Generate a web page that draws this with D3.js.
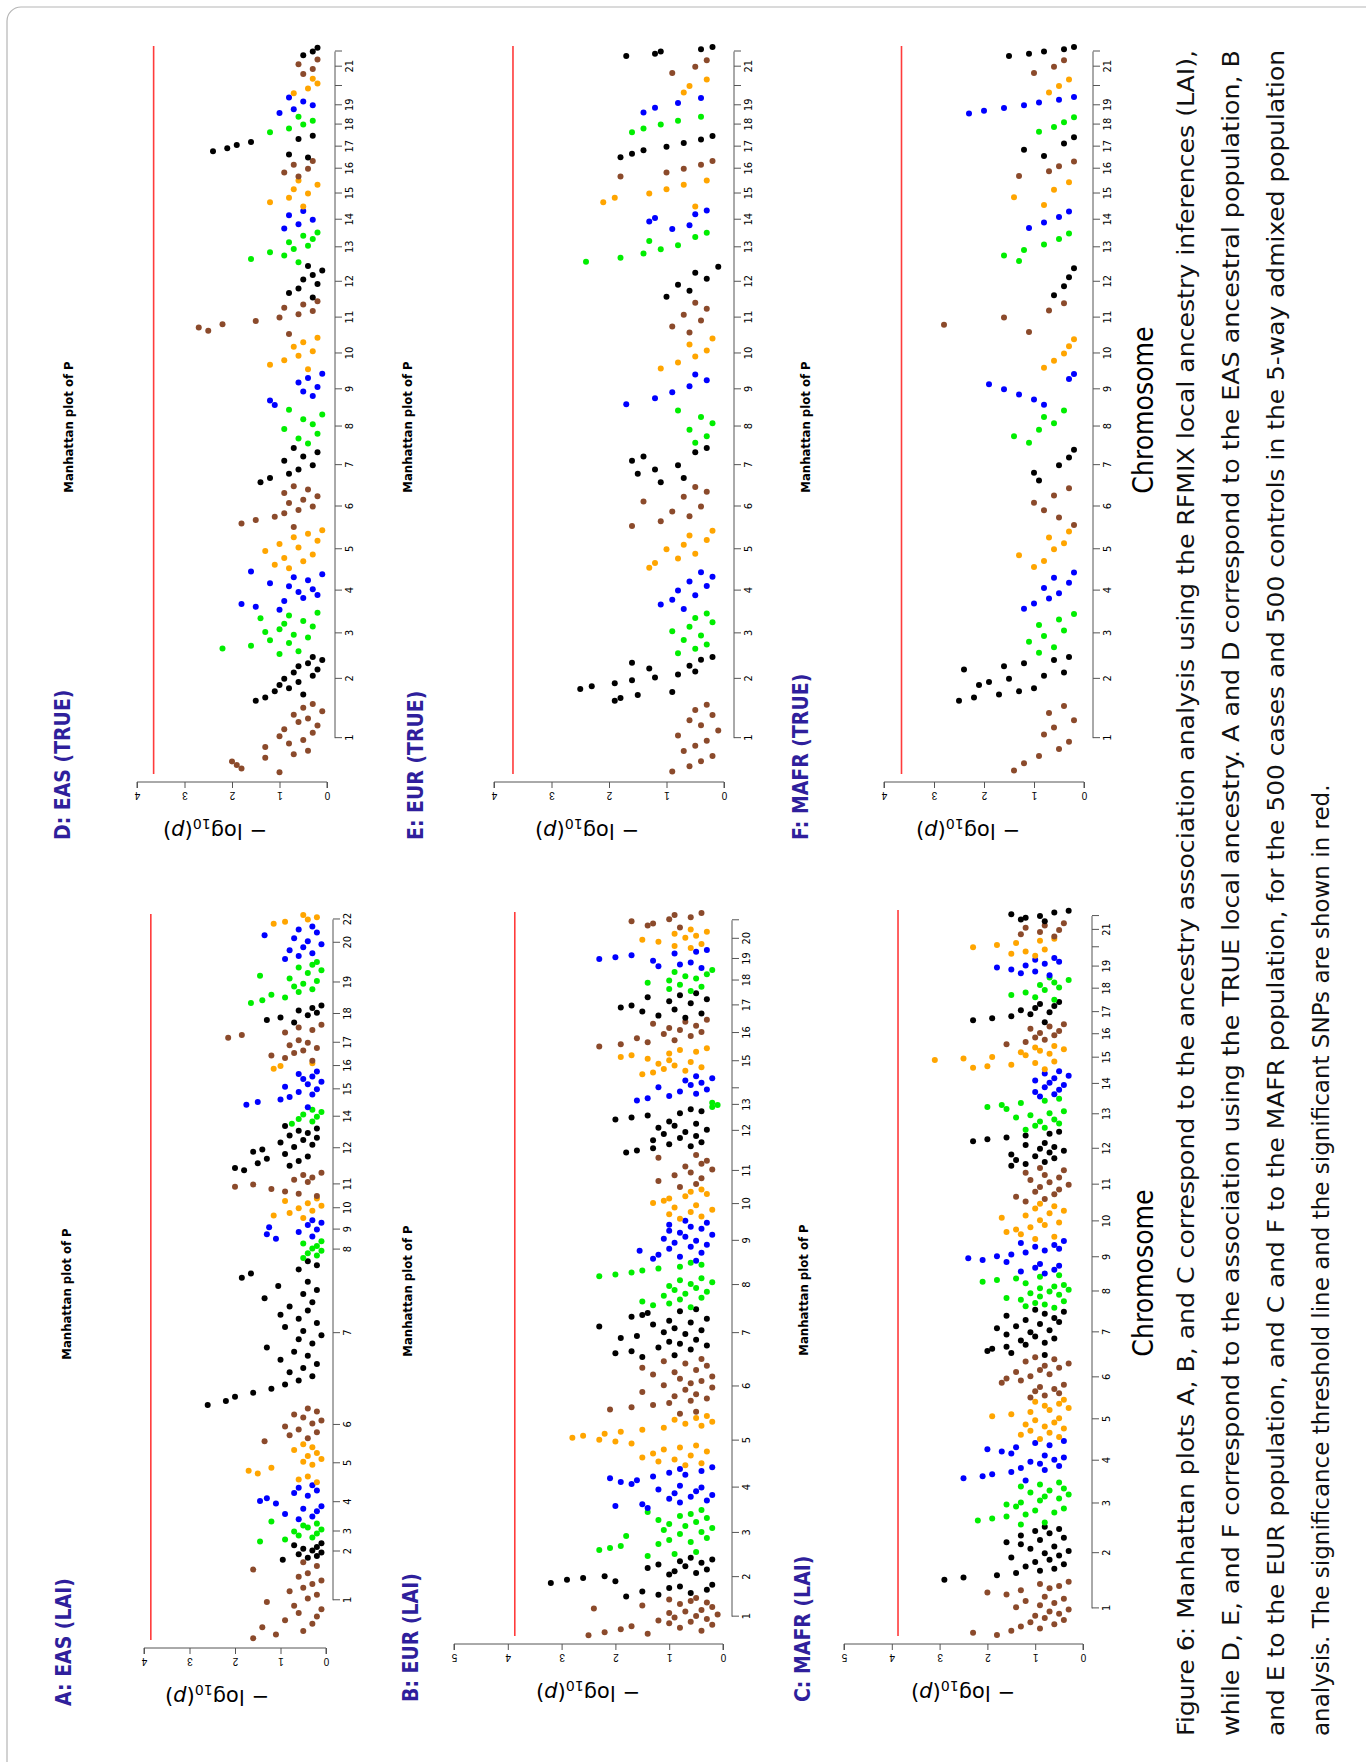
<!DOCTYPE html>
<html>
<head>
<meta charset="utf-8">
<script src="https://cdn.jsdelivr.net/npm/d3@7"></script>
<style>
  body { margin: 0; background: #fff; }
  svg { display: block; }
  .narrow { font-family: "Liberation Sans Narrow", "DejaVu Sans Condensed", "Liberation Sans", sans-serif; }
</style>
</head>
<body>
<svg id="fig" width="1366" height="1762"></svg>
<script>
// colours cycle per chromosome, as in the R plot
const chrColors = ["#8b4a2b", "#000000", "#00ee00", "#0000ff", "#ffa500"];

// relative chromosome widths on the x axis
const spansA = [145,33,40,67,75,65,270,35,38,40,47,85,30,70,15,70,35,80,65,20];
const labelsA = ["1","2","3","4","5","6","7","8","9","10","11","12","14","15","16","17","18","19","20","22"];
const spansB = [70,73,87,77,93,103,90,84,76,57,63,82,12,48,50,52,48,42,36,37,30];
const labelsB = ["1","2","3","4","5","6","7","8","9","10","11","12","13","","15","16","17","18","19","20",""];
const spansC = [100,100,80,75,75,77,86,62,62,68,65,65,60,50,45,40,40,45,35,35,28,22];
const labelsC = ["1","2","3","4","5","6","7","8","9","10","11","12","13","14","15","16","17","18","19","","21",""];
const spansDEF = [130,85,80,75,75,80,70,70,65,65,65,65,60,40,55,35,45,35,35,35,35,20];
const labelsDEF = ["1","2","3","4","5","6","7","8","9","10","11","12","13","14","15","16","17","18","19","","21",""];

// -log10(p) values per chromosome, in order along each chromosome
const valuesA = [
  [1.6,1.1,0.5,1.4,0.3,0.9,0.2,0.6,0.1,0.7,1.3,0.4,0.2,0.8,0.5,0.3,0.1,0.6,0.4,1.6,0.2,0.5],
  [0.95,0.4,0.2,0.6,0.1,0.3,0.5,0.2,0.7,0.1],
  [1.45,0.9,0.3,0.6,0.2,0.7,0.1,0.4,0.5,0.2,1.2],
  [0.6,0.3,0.9,0.2,0.5,0.1,1.1,1.45,1.3,0.4,0.7,0.2,0.6,0.3],
  [0.2,0.6,0.4,1.5,1.7,1.2,0.3,0.5,0.1,0.4,0.2,0.7,0.3,0.5],
  [1.35,0.4,0.8,0.2,0.6,0.9,0.3,0.1,0.5,0.7,0.2,0.4],
  [2.6,2.2,2.0,1.6,1.2,0.9,0.6,0.3,0.8,0.5,0.2,1.0,0.4,0.7,1.3,0.3,0.6,0.1,0.5,0.9,0.2,0.6,1.0,0.4,0.8,0.3,1.35,0.5,0.2,1.05,0.4,1.85,1.65,0.6,0.2,0.4],
  [0.5,0.2,0.4,0.1,0.3,0.2,0.5,0.1],
  [1.1,0.3,1.3,0.6,0.2,1.25,0.4,0.1,0.3],
  [0.5,1.15,0.8,0.3,0.6,0.1,0.4,0.9,0.2],
  [0.2,0.6,0.9,1.2,2.0,1.6,0.4,0.7,0.3,0.5,0.1],
  [1.8,2.0,0.8,1.5,0.6,1.3,0.4,0.9,1.6,1.4,0.7,0.3,1.0,0.5,0.2,0.8,0.4,0.6,0.2,0.9],
  [0.75,0.3,0.6,0.2,0.5,0.1,0.3],
  [0.4,1.75,1.5,1.0,0.8,0.3,0.6,0.2,0.9,0.4,0.1,0.5,0.3,0.6,0.2],
  [1.15,1.0,0.3],
  [0.3,0.9,1.2,0.7,0.5,0.2,0.8,0.4,0.6,2.15,1.85,0.9,0.3,0.6,0.1],
  [0.7,1.3,1.0,0.4,0.2,0.6,0.3,0.1],
  [1.65,1.4,0.9,1.2,0.6,0.3,0.7,0.5,0.2,0.8,1.45,0.4,0.1,0.6,0.3,0.2],
  [0.9,0.6,0.3,0.8,0.5,0.1,0.4,0.7,1.35,0.2,0.6,0.3],
  [1.15,0.9,0.4,0.2,0.5]
];
const valuesB = [
  [2.5,1.4,2.2,0.4,1.9,0.8,1.7,0.2,1.0,0.6,1.2,0.3,0.9,0.5,0.1,1.0,0.7,0.4,2.4,0.2,1.5,0.8,0.3,0.6,1.0,0.5],
  [1.8,1.2,0.6,1.5,0.3,1.0,0.8,0.2,3.2,2.0,2.9,2.6,2.2,1.0,0.5,0.9,0.3,1.4,0.7,1.2,0.4,0.8,0.2,0.6],
  [1.4,0.9,0.5,2.3,2.1,1.9,1.2,0.6,1.0,0.3,1.8,0.8,0.4,1.1,0.2,0.7,1.0,0.5,1.2,0.3,0.8,0.6,1.4,0.4],
  [1.4,2.0,1.5,0.8,0.3,1.0,0.6,0.2,0.9,0.5,1.2,0.4,0.8,1.7,1.9,1.6,2.1,1.3,0.7,1.0,0.4,0.8,0.2],
  [0.7,0.4,1.2,0.9,1.5,0.6,1.3,0.3,1.1,0.8,0.5,1.7,2.0,2.3,2.8,2.6,2.2,1.9,1.5,1.1,0.4,0.7,0.2,0.9,0.5,0.3],
  [0.8,0.5,2.1,1.7,1.3,1.0,0.6,0.3,0.9,0.5,1.5,0.7,0.2,1.1,0.6,0.4,0.8,0.2,1.3,0.9,0.5,1.5,0.3,0.7,1.1,0.4],
  [1.5,0.9,2.0,1.7,0.6,1.2,0.3,0.8,1.0,0.5,1.9,1.6,0.7,1.1,0.4,0.9,2.3,1.3,0.6,1.0,0.3,1.7,1.5,1.4,0.8,0.5],
  [0.6,1.3,1.0,1.5,0.8,0.4,1.1,0.7,0.3,0.9,0.5,1.0,0.6,0.2,0.8,0.4,2.3,2.0,1.7,1.5,1.2,0.8,0.4,0.6],
  [0.5,1.3,0.8,1.2,0.4,1.55,1.0,0.6,0.3,0.9,0.5,1.1,0.7,0.2,0.8,1.0,0.4,0.6,1.0,0.3,0.7],
  [0.8,0.4,1.0,0.6,0.2,0.9,0.5,1.3,1.1,1.0,0.7,0.3,0.6,0.4],
  [0.8,0.5,1.2,0.4,0.9,0.6,0.2,0.7,0.4,0.3,1.2,0.5],
  [1.8,1.6,1.3,0.6,1.0,0.4,1.3,0.8,0.5,1.1,0.7,0.3,1.2,0.9,0.5,1.0,2.0,1.7,1.4,0.8,0.4,0.6],
  [0.2,0.1,0.2],
  [1.6,1.4,1.0,0.5,0.8,0.3,1.2,0.6,0.4,0.7,0.2,0.5],
  [1.5,1.3,0.7,1.1,0.4,0.9,1.2,0.6,1.0,1.4,1.9,1.7,1.0,0.5,0.8,0.3],
  [2.3,1.9,1.4,0.9,1.6,0.6,1.1,0.4,0.8,1.0,0.5,1.3,0.7,0.3],
  [0.7,1.2,0.4,1.5,0.9,1.9,1.7,0.6,1.0,0.3,1.4,0.8,0.5],
  [0.6,1.0,0.4,0.8,1.4,1.0,0.5,0.7,0.3,0.9,0.2],
  [0.4,1.2,0.8,0.6,1.3,2.3,2.0,1.7,0.9,0.5,0.3],
  [0.6,0.9,0.4,1.2,1.5,0.7,0.5,0.9,0.3,0.6],
  [0.8,1.4,1.3,1.7,1.0,0.6,0.9,0.4]
];
const valuesC = [
  [1.8,2.3,1.5,0.9,1.3,0.6,1.1,0.4,0.8,1.0,0.5,0.7,0.3,1.4,0.9,0.6,1.2,0.4,0.8,1.6,2.0,1.3,0.7,0.5,0.9,0.3],
  [2.9,2.5,1.8,1.4,0.9,0.6,1.2,0.4,1.0,0.7,1.5,0.5,0.8,0.3,1.1,0.6,1.3,1.6,0.9,0.4,1.3,0.7,1.0,0.5,0.8],
  [1.3,0.8,2.2,1.9,1.6,1.2,0.6,1.0,0.4,1.4,1.6,1.3,0.9,0.5,0.8,0.3,1.1,0.7,0.4,1.3,0.9,0.5],
  [1.2,2.5,2.1,1.9,1.5,0.8,1.3,0.5,0.9,1.1,0.6,0.4,0.8,1.5,1.7,2.0,1.4,0.7,1.0,0.4],
  [0.9,0.5,1.3,0.7,1.1,0.4,0.8,1.2,0.6,1.0,0.5,1.9,1.5,1.1,0.7,0.3,0.8,0.5,1.0,0.4],
  [1.1,0.8,0.5,1.0,0.6,0.9,0.4,1.7,1.3,1.6,1.1,0.7,1.4,0.9,0.5,0.8,0.3,1.2,0.6,1.0],
  [0.8,1.5,2.0,1.9,1.6,1.2,0.8,1.3,0.6,1.0,1.6,1.1,0.7,1.8,1.4,0.9,0.5,1.2,0.6,1.6,0.8,0.4,1.0],
  [0.6,1.2,0.8,1.0,0.4,1.3,1.6,0.9,0.5,1.1,0.7,0.3,0.9,0.6,0.4,1.2,2.1,1.8,1.4,0.9,0.5],
  [0.8,1.3,0.6,1.0,0.5,0.9,1.6,2.1,2.4,1.8,1.5,1.2,0.8,0.5,1.0,0.6,1.3,0.4],
  [1.0,0.6,1.3,1.6,1.4,1.1,0.8,0.5,0.9,1.7,1.2,0.7,0.4,1.0,0.6,0.9],
  [1.2,0.8,1.4,0.6,1.0,0.5,0.9,0.3,0.7,1.1,0.5,0.8,1.2,0.4,0.9],
  [1.5,1.2,0.8,1.4,0.6,1.0,1.5,0.7,0.4,0.9,0.6,1.2,0.8,2.3,2.0,1.6,1.2,0.7,0.5],
  [1.2,0.8,1.0,0.5,0.9,0.6,1.4,1.1,0.7,0.4,1.6,2.0,1.7,1.3,0.8,0.5],
  [0.9,0.6,1.0,0.5,0.8,0.4,0.7,1.0,0.6,0.3,0.8,0.5],
  [0.8,2.3,2.0,1.5,1.0,0.6,3.1,2.5,1.9,1.2,0.7,1.3,0.9,0.4,1.0,0.6],
  [1.6,1.2,0.8,1.0,0.6,0.9,0.5,1.1,0.7,0.4],
  [0.8,2.3,1.9,1.5,1.1,0.7,1.3,1.0,0.6,0.9,0.5],
  [0.6,1.0,1.5,1.2,0.8,0.5,0.9,0.6,0.3,0.7],
  [0.7,1.3,1.0,1.5,1.8,1.2,0.8,0.5,1.0,0.6],
  [1.0,1.5,1.2,0.8,2.3,1.8,1.4,0.9,0.6],
  [0.6,1.3,0.9,0.5,1.2,0.8,0.4],
  [0.8,1.3,1.2,0.9,1.5,0.6,0.3]
];
const valuesD = [
  [1.0,1.8,1.9,2.0,1.3,0.7,0.4,1.3,0.8,0.5,1.0,0.3,0.9,0.2,0.6,0.4,0.7,0.1,0.5,0.3],
  [1.5,1.3,0.5,1.1,0.8,1.0,0.6,0.9,0.3,0.7,0.2,0.6,0.4,0.1,0.3],
  [1.0,0.6,2.2,1.6,0.8,1.2,0.4,0.7,1.3,1.0,0.3,0.9,0.5,1.4,0.8,0.2],
  [1.0,1.5,1.8,0.9,0.5,0.2,0.6,0.3,0.8,1.2,0.4,0.7,0.1,1.6],
  [0.8,1.1,0.5,0.9,0.3,1.3,0.6,1.0,0.2,0.7,0.4,0.1],
  [0.7,1.8,1.5,1.1,0.9,0.6,0.3,0.8,0.5,0.2,0.9,0.4,0.7],
  [1.4,1.2,0.8,0.6,0.3,0.9,0.5,0.2,0.7],
  [0.4,0.6,0.2,0.9,0.3,0.5,0.1,0.8],
  [1.1,1.2,0.3,0.5,0.2,0.6,0.4,0.1],
  [0.4,1.2,0.9,0.6,0.3,0.7,0.5,0.2],
  [0.8,2.5,2.7,2.2,1.5,1.0,0.6,0.3,0.9,0.5,0.2],
  [0.3,0.8,0.6,0.2,0.5,0.3,0.1,0.4],
  [0.6,1.6,0.9,1.2,0.7,0.4,0.8,0.3,0.5,0.2],
  [0.9,0.6,0.3,0.8,0.5],
  [0.5,1.2,0.8,0.4,0.7,0.2,0.6],
  [0.6,0.9,0.4,0.7,0.3],
  [0.4,0.8,2.4,2.1,1.9,1.6,0.6,0.3],
  [1.2,0.8,0.5,0.3,0.6],
  [1.0,0.7,0.3,0.5,0.8],
  [0.7,0.4,0.2,0.3],
  [0.5,0.3,0.6,0.2],
  [0.5,0.3,0.2]
];
const valuesE = [
  [0.9,0.6,0.4,0.2,0.7,0.5,0.3,0.8,0.1,0.4,0.6,0.2,0.5,0.3],
  [1.9,1.8,1.5,0.9,2.5,2.3,1.9,1.6,1.2,0.8,0.5,1.3,0.6,1.6,0.4,0.2],
  [0.8,0.5,0.3,0.7,0.4,0.9,0.6,0.2,0.5,0.3],
  [0.7,1.1,0.9,0.5,0.8,0.3,0.6,0.2,0.4],
  [1.3,1.2,0.8,0.5,1.0,0.7,0.3,0.6,0.2],
  [1.6,1.1,0.6,0.9,0.4,1.4,0.7,0.3,0.5],
  [1.1,0.7,1.5,1.2,0.8,1.6,1.4,0.5,0.3],
  [0.5,0.3,0.6,0.2,0.4,0.8],
  [1.7,1.2,0.9,0.6,0.3,0.5],
  [1.1,0.8,0.5,0.3,0.6,0.2],
  [0.6,0.9,0.4,0.7,0.3,0.5],
  [1.0,0.6,0.8,0.3,0.5,0.1],
  [2.4,1.8,1.4,1.1,0.8,1.3,0.5,0.3],
  [0.9,0.6,1.3,1.2,0.5,0.3],
  [0.5,2.1,1.9,1.3,1.0,0.7,0.3],
  [1.8,1.0,0.7,0.4,0.2],
  [1.8,1.6,1.4,1.0,0.7,0.4,0.2],
  [1.6,1.4,1.1,0.8,0.4],
  [1.4,1.2,0.8,0.4],
  [0.7,0.6,0.3],
  [0.9,0.5,0.3],
  [1.7,1.2,1.1,0.4,0.2]
];
const valuesF = [
  [1.4,1.2,0.9,0.5,0.3,0.8,0.6,0.2,0.7,0.4],
  [2.5,2.2,1.7,1.3,1.0,2.1,1.9,1.5,0.8,0.4,2.4,1.6,1.2,0.6,0.3],
  [0.9,0.6,1.1,0.8,0.4,0.9,0.5,0.2],
  [1.2,1.0,0.7,0.5,0.8,0.3,0.6,0.2],
  [1.0,0.8,1.3,0.6,0.4,0.7,0.3],
  [0.2,0.5,0.8,1.0,0.6,0.3],
  [0.9,1.0,0.5,0.3,0.2],
  [1.1,1.4,0.9,0.6,0.8,0.4],
  [0.8,1.0,1.3,1.6,1.9,0.3,0.2],
  [0.8,0.6,0.4,0.3,0.2],
  [1.1,2.8,1.6,0.7,0.4],
  [0.6,0.4,0.3,0.2],
  [1.3,1.6,1.2,0.8,0.5,0.3],
  [1.1,0.8,0.5,0.3],
  [0.8,1.4,0.6,0.3],
  [1.3,0.7,0.5,0.2],
  [0.8,1.2,0.4,0.2],
  [0.9,0.6,0.4,0.2],
  [2.3,2.0,1.6,1.2,0.9,0.5,0.2],
  [0.7,0.5,0.3],
  [1.0,0.6,0.4],
  [1.5,1.1,0.8,0.4,0.2]
];

const titles = ["A: EAS (LAI)", "B: EUR (LAI)", "C: MAFR (LAI)", "D: EAS (TRUE)", "E: EUR (TRUE)", "F: MAFR (TRUE)"];
const thresholds = [3.85, 3.87, 3.87, 3.65, 3.67, 3.65];
const yMax = [4, 5, 5, 4, 4, 4];

const caption = [
  "Figure 6: Manhattan plots A, B, and C correspond to the ancestry association analysis using the RFMIX local ancestry inferences (LAI),",
  "while D, E, and F correspond to the association using the TRUE local ancestry. A and D correspond to the EAS ancestral population, B",
  "and E to the EUR population, and C and F to the MAFR population, for the 500 cases and 500 controls in the 5-way admixed population",
  "analysis.  The significance threshold line and the significant SNPs are shown in red."
];

// layout in the landscape frame (the page is rotated)
const W = 1762;
const panels = [
  {spans: spansA, labels: labelsA, values: valuesA, x0: 122, x1: 848, y0: 326, yTop: 144, axisY: 333, titleY: 63, subY: 66, ylabY: 217},
  {spans: spansB, labels: labelsB, values: valuesB, x0: 126, x1: 850, y0: 723, yTop: 454, axisY: 732, titleY: 410, subY: 407, ylabY: 588},
  {spans: spansC, labels: labelsC, values: valuesC, x0: 126, x1: 852, y0: 1083, yTop: 844, axisY: 1092, titleY: 802, subY: 803, ylabY: 963, xlab: true},
  {spans: spansDEF, labels: labelsDEF, values: valuesD, x0: 988, x1: 1716, y0: 327, yTop: 137, axisY: 335, titleY: 62, subY: 68, ylabY: 215},
  {spans: spansDEF, labels: labelsDEF, values: valuesE, x0: 988, x1: 1716, y0: 724, yTop: 494, axisY: 734, titleY: 415, subY: 407, ylabY: 587},
  {spans: spansDEF, labels: labelsDEF, values: valuesF, x0: 988, x1: 1716, y0: 1084, yTop: 884, axisY: 1093, titleY: 800, subY: 805, ylabY: 968, xlab: true}
];

const svg = d3.select("#fig");

svg.append("rect")
  .attr("x", 7).attr("y", 7).attr("width", 1400).attr("height", 1800)
  .attr("rx", 14)
  .attr("fill", "none").attr("stroke", "#b5b5b5").attr("stroke-width", 1.2);

const g = svg.append("g").attr("transform", `translate(0,${W}) rotate(-90)`);

panels.forEach((p, pi) => {
  const cum = d3.cumsum(p.spans);
  const total = cum[cum.length - 1];
  const x = d3.scaleLinear().domain([0, total]).range([p.x0, p.x1]);
  const y = d3.scaleLinear().domain([0, yMax[pi]]).range([p.y0, p.yTop]);
  const pg = g.append("g");

  // points
  const pts = [];
  p.values.forEach((arr, ci) => {
    const start = cum[ci] - p.spans[ci];
    arr.forEach((v, i) => pts.push({pos: start + (i + 0.5) / arr.length * p.spans[ci], v: v, c: ci}));
  });
  pg.selectAll("circle").data(pts).enter().append("circle")
    .attr("cx", d => x(d.pos))
    .attr("cy", d => y(d.v))
    .attr("r", 3)
    .attr("fill", d => chrColors[d.c % 5]);

  // significance threshold
  pg.append("line")
    .attr("x1", x(0)).attr("x2", x(total))
    .attr("y1", y(thresholds[pi])).attr("y2", y(thresholds[pi]))
    .attr("stroke", "#ff3b3b").attr("stroke-width", 1.6);

  // chromosome axis
  const centers = p.spans.map((s, i) => cum[i] - s / 2);
  const xa = pg.append("g")
    .attr("transform", `translate(0,${p.axisY})`)
    .call(d3.axisBottom(x).tickValues(centers).tickFormat((d, i) => p.labels[i]).tickSize(7).tickPadding(3));
  xa.select(".domain").remove();
  xa.append("line")
    .attr("x1", x(centers[0])).attr("x2", x(centers[centers.length - 1]))
    .attr("stroke", "#000");
  xa.selectAll("line").attr("stroke", "#555");
  xa.selectAll("text").attr("class", "narrow").attr("font-size", 11).attr("fill", "#000");

  // value axis
  const ya = pg.append("g")
    .attr("transform", `translate(${p.x0 - 8},0)`)
    .call(d3.axisLeft(y).tickValues(d3.range(0, yMax[pi] + 1)).tickSize(6).tickFormat(d3.format("d")));
  ya.select(".domain").attr("d", `M-6,${y(0)}H0V${y(yMax[pi])}H-6`).attr("stroke", "#555");
  ya.selectAll("line").attr("stroke", "#555");
  ya.selectAll("text")
    .attr("x", 0).attr("y", -10).attr("dy", null)
    .attr("transform", "rotate(-90)")
    .attr("text-anchor", "middle")
    .attr("font-family", "Liberation Sans, Arial, sans-serif")
    .attr("font-size", 10).attr("fill", "#000");

  // y label
  const yl = pg.append("text")
    .attr("transform", `translate(${p.x0 - 50},${p.ylabY}) rotate(-90)`)
    .attr("text-anchor", "middle")
    .attr("font-family", "DejaVu Sans, sans-serif")
    .attr("font-size", 21);
  yl.append("tspan").text("\u2212 log");
  yl.append("tspan").attr("font-size", 14).attr("dy", 5).text("10");
  yl.append("tspan").attr("dy", -5).text("(");
  yl.append("tspan").attr("font-style", "italic").text("p");
  yl.append("tspan").text(")");

  // titles
  pg.append("text")
    .attr("class", "narrow")
    .attr("x", p.x0 - 66).attr("y", p.titleY + 8)
    .attr("font-size", 21).attr("font-weight", "bold")
    .attr("fill", "#2f1f9c")
    .text(titles[pi]);
  pg.append("text")
    .attr("class", "narrow")
    .attr("x", (p.x0 + p.x1) / 2 - 17).attr("y", p.subY + 5)
    .attr("text-anchor", "middle")
    .attr("font-size", 13).attr("font-weight", "bold")
    .text("Manhattan plot of P");

  if (p.xlab) {
    pg.append("text")
      .attr("class", "narrow")
      .attr("x", (p.x0 + p.x1) / 2).attr("y", 1153)
      .attr("text-anchor", "middle")
      .attr("font-size", 28)
      .text("Chromosome");
  }
});

// caption
const capY = [1194, 1239, 1284, 1329];
caption.forEach((line, i) => {
  const t = g.append("text")
    .attr("x", 26).attr("y", capY[i])
    .attr("font-family", "DejaVu Sans, sans-serif")
    .attr("font-size", 23)
    .attr("fill", "#111")
    .text(line);
  if (i < 3) t.attr("textLength", 1686).attr("lengthAdjust", "spacingAndGlyphs");
});
</script>
</body>
</html>
